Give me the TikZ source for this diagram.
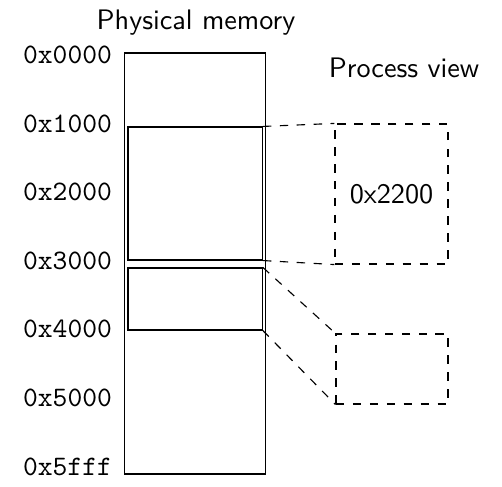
\documentclass[tikz,border=0pt]{standalone}
\usetikzlibrary{fit}
\begin{document}
\begin{tikzpicture}[x=0.3546pt, y=-0.3546pt,
  block/.style={draw, inner sep=0pt},
  view/.style={draw, dashed, inner sep=0pt},
  addr/.style={anchor=base east, inner sep=0pt, font=\ttfamily},
  caption/.style={anchor=base, inner sep=0pt, font=\sffamily},
  link/.style={draw, dashed}]
\useasboundingbox (0,0) rectangle (502,487);

% physical memory column and the two allocated blocks
\node[block, fit={(124.5,53)(265.3,474)}] (mem) {};
\node[block, fit={(128,127)(262.3,260)}] (blkA) {};
\node[block, fit={(128,268)(262.3,330)}] (blkB) {};

% address scale
\node[addr] (a0) at (112.5,64)    {0x0000};
\node[addr] (a1) at (112.5,132.5) {0x1000};
\node[addr] (a2) at (112.5,201)   {0x2000};
\node[addr] (a3) at (112.5,269.5) {0x3000};
\node[addr] (a4) at (112.5,338)   {0x4000};
\node[addr] (a5) at (112.5,406.5) {0x5000};
\node[addr] (a6) at (112.5,475)   {0x5fff};

% titles
\node[caption] (tphys) at (196,30) {Physical memory};
\node[caption] (tproc) at (404,78) {Process view};

% process view of the blocks
\node[view, fit={(335,124)(448,264)}] (viewA) {};
\node[view, fit={(336,334)(448,404)}] (viewB) {};
\node[inner sep=0pt, font=\sffamily] (off) at (viewA.center) {0x2200};

% mapping lines
\path[link] (blkA.north east) -- (viewA.north west);
\path[link] (blkA.south east) -- (viewA.south west);
\path[link] (blkB.north east) -- (viewB.north west);
\path[link] (blkB.south east) -- (viewB.south west);
\end{tikzpicture}
\end{document}
